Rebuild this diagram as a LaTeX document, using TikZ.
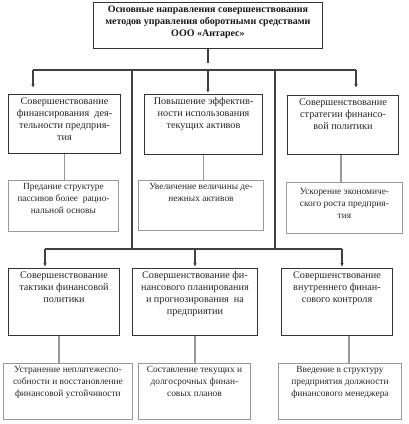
\documentclass[tikz,border=0pt]{standalone}
\usepackage{fontspec}
\setmainfont{Liberation Serif}
\usetikzlibrary{arrows.meta}
\newcommand{\boxtext}[3]{\parbox[t][#2pt][t]{#1pt}{\centering #3}}

\begin{document}
\begin{tikzpicture}
    [
        x=1pt, y=-1pt,
        head_node/.style={draw=black!80, line width=0.9pt, anchor=north west, inner xsep=2pt, inner ysep=3pt, text=black!90, font=\fontsize{10}{12}\selectfont\bfseries},
        aim_node/.style={draw=black!80, line width=1pt, anchor=north west, inner xsep=2pt, inner ysep=3pt, text=black!85, font=\fontsize{10.2}{12}\selectfont},
        task_node/.style={draw=black!40, line width=0.9pt, anchor=north west, inner xsep=2pt, inner ysep=3pt, text=black!85, font=\fontsize{9.4}{12}\selectfont},
        bus_line/.style={draw=black!75, line width=1.2pt},
        arrow_line/.style={bus_line, -{Latex[length=4pt,width=3.5pt]}},
        link_line/.style={draw=black!40, line width=1.2pt},
    ]
        \useasboundingbox (0,0) rectangle (408,424);
        % head
        \node[head_node] (head) at (93,2) {\boxtext{225}{40}{Основные направления совершенствования\\ методов управления оборотными средствами\\ ООО «Антарес»}} ;
        % first level
        \node[aim_node] (aim1) at (8,94) {\boxtext{108}{53}{Совершенствование\\ финансирования~ дея-\\ тельности предприя-\\ тия}} ;
        \node[aim_node] (aim2) at (144,94) {\boxtext{114}{54}{Повышение эффектив-\\ ности использования\\ текущих активов}} ;
        \node[aim_node] (aim3) at (287,95) {\boxtext{107}{53}{Совершенствование\\ стратегии финансо-\\ вой политики}} ;
        \node[task_node] (task1) at (8,180) {\boxtext{106}{45}{Предание структуре\\ пассивов более~ рацио-\\ нальной основы}} ;
        \node[task_node] (task2) at (138,180) {\boxtext{121}{44}{Увеличение величины де-\\ нежных активов}} ;
        \node[task_node] (task3) at (286,182) {\boxtext{112}{45}{\vspace*{3pt}Ускорение экономиче-\\ ского роста предприя-\\ тия}} ;
        % second level
        \node[aim_node] (aim4) at (8,268) {\boxtext{107}{61}{Совершенствование\\ тактики финансовой\\ политики}} ;
        \node[aim_node] (aim5) at (132,268) {\boxtext{121}{61}{Совершенствование фи-\\ нансового планирования\\ и прогнозирования~ на\\ предприятии}} ;
        \node[aim_node] (aim6) at (281,268) {\boxtext{107}{61}{Совершенствование\\ внутреннего финан-\\ сового контроля}} ;
        \node[task_node] (task4) at (3,363) {\boxtext{125}{50}{Устранение неплатежеспо-\\ собности и восстановление\\ финансовой устойчивости}} ;
        \node[task_node] (task5) at (138,363) {\boxtext{108}{50}{Составление текущих и\\ долгосрочных финан-\\ совых планов}} ;
        \node[task_node] (task6) at (278,363) {\boxtext{119}{50}{Введение в структуру\\ предприятия должности\\ финансового менеджера}} ;
        % buses
        \coordinate (bus1_l) at (33,70) ;
        \coordinate (bus1_r) at (356,70) ;
        \coordinate (bus1_m) at (head.south |- bus1_l) ;
        \coordinate (bus2_l) at (45,249) ;
        \coordinate (bus2_r) at (342,249) ;
        \coordinate (riser_l) at (132,70) ;
        \coordinate (riser_r) at (275,70) ;
        \draw[bus_line] (head.south) -- ++(0,14) ;
        \draw[bus_line] (bus1_l) -- (bus1_r) ;
        \draw[arrow_line, shorten >=6pt] (bus1_l) -- (bus1_l |- aim1.north) ;
        \draw[arrow_line, shorten >=1pt] (bus1_m) -- (bus1_m |- aim2.north) ;
        \draw[arrow_line, shorten >=7pt] (bus1_r) -- (bus1_r |- aim3.north) ;
        \draw[bus_line] (riser_l) -- (riser_l |- bus2_l) ;
        \draw[bus_line] (riser_r) -- (riser_r |- bus2_l) ;
        \draw[bus_line] (bus2_l) -- (bus2_r) ;
        \draw[arrow_line, shorten >=1pt] (bus2_l) -- (bus2_l |- aim4.north) ;
        \draw[arrow_line, shorten >=1pt] (aim5.north |- bus2_l) -- (aim5.north) ;
        \draw[arrow_line, shorten >=1pt] (bus2_r) -- (bus2_r |- aim6.north) ;
        % links
        \draw[link_line] (aim1.south) -- (aim1.south |- task1.north) ;
        \draw[link_line] (aim2.south) -- (aim2.south |- task2.north) ;
        \draw[link_line] ([xshift=-2pt]aim3.south) -- ([xshift=-2pt]aim3.south |- task3.north) ;
        \draw[link_line] ([xshift=-5pt]aim4.south) -- ([xshift=-5pt]aim4.south |- task4.north) ;
        \draw[link_line] (aim5.south) -- (aim5.south |- task5.north) ;
        \draw[link_line] ([xshift=12pt]aim6.south) -- ([xshift=12pt]aim6.south |- task6.north) ;
\end{tikzpicture}
\end{document}
